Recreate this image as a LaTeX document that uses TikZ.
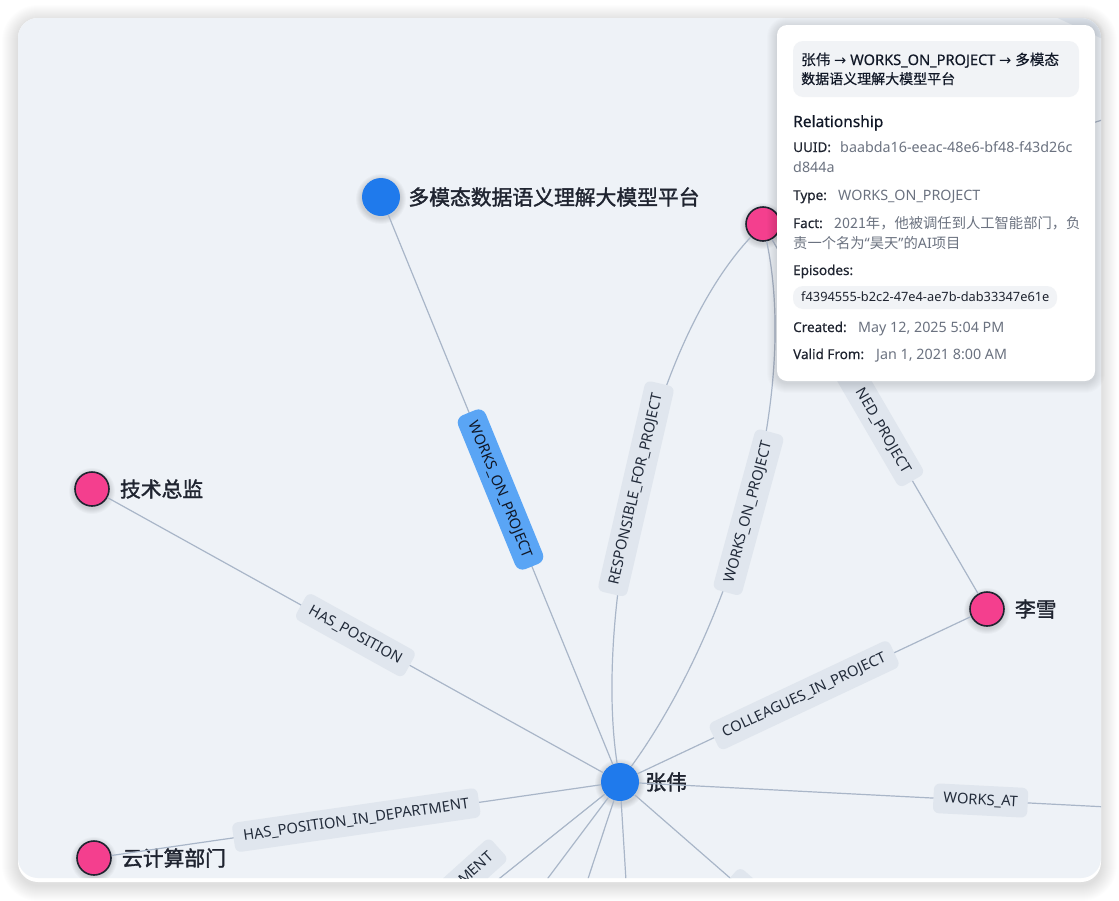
\documentclass[tikz,border=0pt]{standalone}
\usepackage{fontspec}
\setmainfont{Noto Sans}
\newfontfamily\cjk{Noto Sans CJK SC}
\newfontfamily\cjkmed[FakeBold=0.4]{Noto Sans CJK SC}
\newfontfamily\cjknode[FakeBold=1.6]{Noto Sans CJK SC}
\newfontfamily\labfont{Noto Sans}
\newfontfamily\medfont[FakeBold=0.45]{Noto Sans}
\newfontfamily\arrfont{DejaVu Sans}
\definecolor{canvas}{HTML}{EEF2F7}
\definecolor{edgec}{HTML}{A9B6C8}
\definecolor{lblbg}{HTML}{E0E6EE}
\definecolor{lbltext}{HTML}{222B3A}
\definecolor{hlbg}{HTML}{5AA5F5}
\definecolor{bluen}{HTML}{1F7AEC}
\definecolor{pinkn}{HTML}{F43F8E}
\definecolor{rim}{HTML}{1F2430}
\definecolor{ink}{HTML}{111827}
\definecolor{muted}{HTML}{6B7280}
\definecolor{chipbg}{HTML}{F1F3F6}
\newcommand\halo[3]{\foreach \k in {1,...,6}{\fill[black,opacity=0.022] (#1,#2+2) circle ({#3+\k});}}
\begin{document}
\begin{tikzpicture}[x=1pt,y=-1pt,
  bluenode/.style={circle, minimum size=38pt, inner sep=0pt, fill=bluen},
  pinknode/.style={circle, minimum size=34pt, inner sep=0pt, fill=pinkn, draw=rim, line width=1.6pt},
  ntext/.style={inner sep=0pt, text=rim, font=\cjknode\fontsize{20.8}{24}\selectfont},
  edgeline/.style={draw=edgec, line width=1.2pt},
  lab/.style={sloped, fill=lblbg, text=lbltext, font=\labfont\fontsize{14.7}{16}\selectfont,
     rounded corners=6pt, inner xsep=10pt, inner ysep=8.5pt, text height=10.8pt, text depth=2pt},
  hlab/.style={lab, fill=hlbg, text=ink, rounded corners=8pt},
  tt/.style={anchor=base west, inner sep=0pt, text=ink, font=\fontsize{14}{16}\selectfont},
  ttitle/.style={tt, font=\medfont\fontsize{15.5}{18}\selectfont},
  tkey/.style={tt, font=\medfont\fontsize{13.5}{16}\selectfont, text=rim},
  tval/.style={tt, font=\fontsize{14.3}{16}\selectfont, text=muted},
  tchip/.style={tt, font=\fontsize{12.8}{15}\selectfont, text=rim}
]
\useasboundingbox (0,0) rectangle (1119,900);
\fill[white] (0,0) rectangle (1119,900);
% frame shadow
\foreach \i in {16,15,...,1}{
  \fill[black, opacity=0.008, rounded corners={(20+\i)*1pt}] (18-\i,21-\i) rectangle (1101+\i,885+\i);
}
\fill[white, rounded corners=20pt] (18,18) rectangle (1101,882);
\fill[canvas, rounded corners=20pt] (18,18) rectangle (1101,878);

\begin{scope}
\clip[rounded corners=20pt] (18,18) rectangle (1101,878);
% off-canvas end points
\coordinate (wa) at (1322,818);
\coordinate (b1) at (435,930);
\coordinate (b2) at (509,930);
\coordinate (b3) at (571,930);
\coordinate (b4) at (629,930);
\coordinate (b5) at (831,966);
\coordinate (tr) at (1200,90);
% node shadows
\halo{620}{782}{19}
\halo{381}{197}{19}
\halo{763}{224}{17}
\halo{92}{489}{17}
\halo{987}{609}{17}
\halo{94}{858}{17}
% nodes
\node[bluenode, label={[ntext, label distance=6pt]right:张伟}] (zw) at (620,782) {};
\node[bluenode, label={[ntext, label distance=8pt]right:多模态数据语义理解大模型平台}] (mm) at (381,197) {};
\node[pinknode] (pk) at (763,224) {};
\node[pinknode, label={[ntext, label distance=10pt]right:技术总监}] (js) at (92,489) {};
\node[pinknode, label={[ntext, label distance=10pt]right:李雪}] (lx) at (987,609) {};
\node[pinknode, label={[ntext, label distance=10pt]right:云计算部门}] (yj) at (94,858) {};
% edges
\draw[edgeline] (zw) -- (b1);
\draw[edgeline] (zw) -- (b2);
\draw[edgeline] (zw) -- (b3);
\draw[edgeline] (zw) -- (b4);
\draw[edgeline] (zw) -- (b5) node[lab, pos=0.667] (lb5) {\phantom{WORKS\_AT}};
\draw[edgeline] (pk) -- (tr);
\draw[edgeline] (zw) -- node[hlab] (l1) {WORKS\_ON\_PROJECT} (mm);
\draw[edgeline] (zw) -- node[lab] (l2) {HAS\_POSITION} (js);
\draw[edgeline] (zw) -- node[lab] (l3) {HAS\_POSITION\_IN\_DEPARTMENT} (yj);
\draw[edgeline] (zw) -- node[lab] (l4) {COLLEAGUES\_IN\_PROJECT} (lx);
\draw[edgeline] (zw) -- node[lab] (l5) {WORKS\_AT} (wa);
\draw[edgeline] (pk) -- node[lab, pos=0.49] (l6) {\phantom{ASSIG}NED\_PROJECT} (lx);
\draw[edgeline] (zw) .. controls (595,620) and (645,350) .. (pk) node[lab, pos=0.5] (l7) {RESPONSIBLE\_FOR\_PROJECT};
\draw[edgeline] (zw) .. controls (730,630) and (800,400) .. (pk) node[lab, pos=0.5] (l8) {WORKS\_ON\_PROJECT};
\node[lab, sloped=false, rotate=42, anchor=east] (ment) at (499,848) {\phantom{DEPART}MENT};
\node[lab, sloped=false, rotate=-25] (trl) at (1080,12) {\phantom{ABCDEFG}};
\end{scope}

% tooltip
\foreach \i in {10,9,...,1}{
  \fill[black, opacity=0.01, rounded corners={(10+\i)*1pt}] (777-\i,27-\i) rectangle (1095+\i,383+\i);
}
\fill[white, rounded corners=10pt] (777,25) rectangle (1095,381);
\fill[chipbg, rounded corners=10pt] (793,41) rectangle (1079,97);
\node[tt, font=\medfont\fontsize{14.6}{16}\selectfont] (h1) at (801,65) {{\cjkmed 张伟} {\arrfont →} WORKS\_ON\_PROJECT {\arrfont →} {\cjkmed 多模态}};
\node[tt, font=\cjkmed\fontsize{14}{16}\selectfont] (h2) at (801,84) {数据语义理解大模型平台};
\node[ttitle] (rel) at (793,127) {Relationship};
\node[tkey] (k1) at (793,152) {UUID:};
\node[tval] (v1) at (840,152) {baabda16-eeac-48e6-bf48-f43d26c};
\node[tval] (v1b) at (793,172) {d844a};
\node[tkey] (k2) at (793,200) {Type:};
\node[tval] (v2) at (838,200) {WORKS\_ON\_PROJECT};
\node[tkey] (k3) at (793,228) {Fact:};
\node[tval] (v3) at (834,228) {{\cjk 2021年，他被调任到人工智能部门，负}};
\node[tval] (v3b) at (793,248) {{\cjk 责一个名为}“{\cjk 昊天}”{\cjk 的}AI{\cjk 项目}};
\node[tkey] (k4) at (793,275) {Episodes:};
\fill[chipbg, rounded corners=10pt] (793,286) rectangle (1057,309);
\node[tchip] (ep) at (801,301.5) {f4394555-b2c2-47e4-ae7b-dab33347e61e};
\node[tkey] (k5) at (793,332) {Created:};
\node[tval] (v5) at (858,332) {May 12, 2025 5:04 PM};
\node[tkey] (k6) at (793,359) {Valid From:};
\node[tval] (v6) at (876,359) {Jan 1, 2021 8:00 AM};
\end{tikzpicture}
\end{document}
